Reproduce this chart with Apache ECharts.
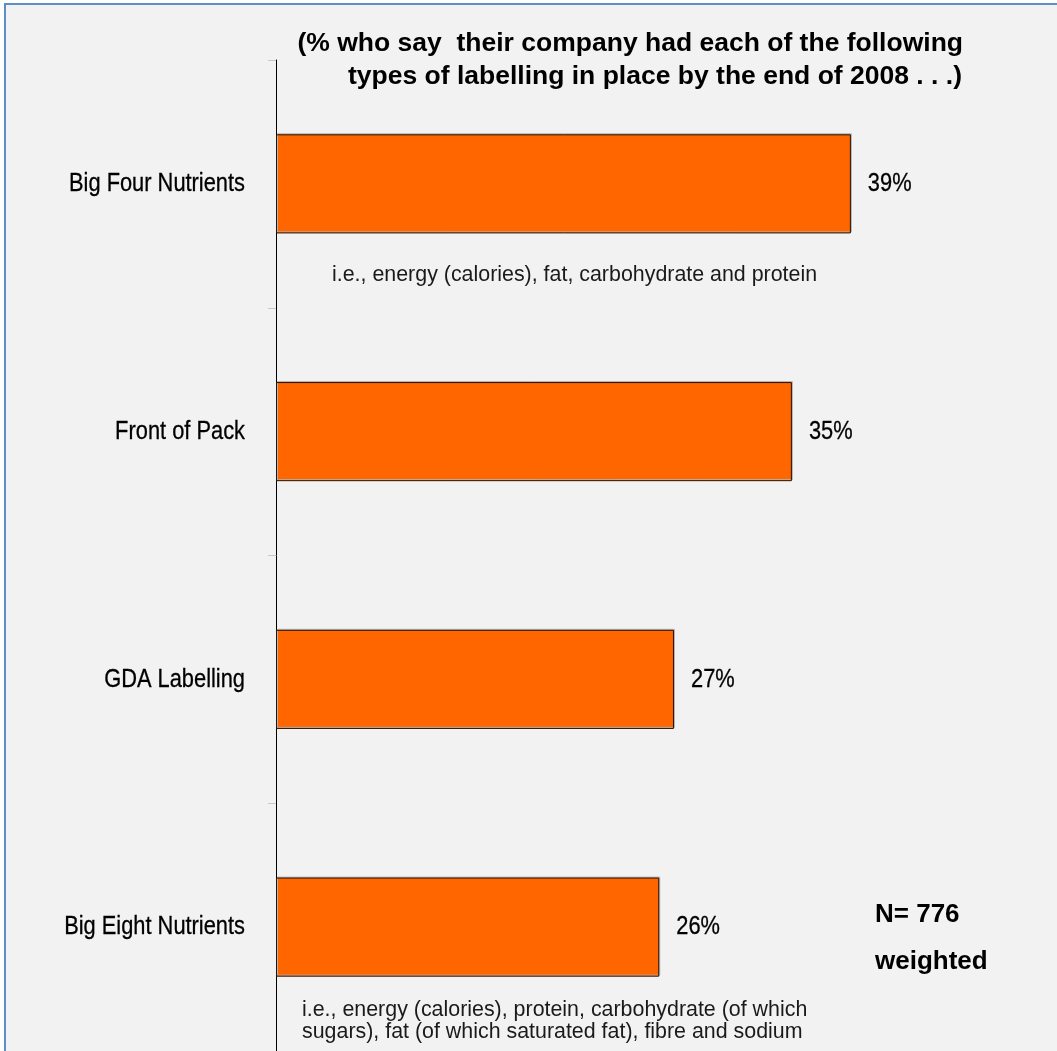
<!DOCTYPE html>
<html>
<head>
<meta charset="utf-8">
<script src="https://cdn.jsdelivr.net/npm/echarts@6/dist/echarts.min.js"></script>
<style>
  html, body { margin: 0; padding: 0; background: #ffffff; overflow: hidden; }
  #frame {
    position: absolute; left: 4px; top: 3px; width: 1051px; height: 1100px;
    border: 2px solid #5f8dc8; background: #f2f2f2;
  }
  #chart { position: absolute; left: 0; top: 0; width: 1057px; height: 1051px; }
</style>
</head>
<body>
<div id="frame"></div>
<div id="chart"></div>
<script>
// Labelling types and share of respondents (%)
const categories = ['Big Four Nutrients', 'Front of Pack', 'GDA Labelling', 'Big Eight Nutrients'];
const values = [39, 35, 27, 26];

const titleLines = [
  '(% who say  their company had each of the following',
  'types of labelling in place by the end of 2008 . . .)'
];
const noteBigFour = 'i.e., energy (calories), fat, carbohydrate and protein';
const noteBigEight = [
  'i.e., energy (calories), protein, carbohydrate (of which',
  'sugars), fat (of which saturated fat), fibre and sodium'
];
const sampleLines = ['N= 776', 'weighted'];

const sans = '"Liberation Sans", Arial, sans-serif';
// condensed look for category and value labels: regular face squeezed horizontally
const narrowFont = '26px ' + sans;
const narrowScale = 0.84;

const chart = echarts.init(document.getElementById('chart'), null, { renderer: 'canvas' });

chart.setOption({
  backgroundColor: 'transparent',
  animation: false,
  grid: { left: 276, top: 60, right: 44, bottom: -1, containLabel: false },
  xAxis: { type: 'value', min: 0, max: 50, show: false },
  yAxis: {
    type: 'category',
    data: categories,
    inverse: true,
    axisLine: { show: true, lineStyle: { color: '#000000', width: 1 } },
    axisTick: { show: true, length: 8, lineStyle: { color: '#c8c8c8', width: 1 } },
    axisLabel: { show: false },
    splitLine: { show: false }
  },
  series: [{
    type: 'bar',
    data: values,
    barWidth: '40%',
    itemStyle: {
      color: '#ff6600',
      borderColor: '#2a1200',
      borderWidth: 1,
      shadowColor: '#b4b4b4',
      shadowBlur: 0,
      shadowOffsetX: 1,
      shadowOffsetY: -1
    }
  }]
});

// Category names and value labels placed through the axis scales
const axisX0 = chart.convertToPixel({ xAxisIndex: 0 }, 0);
const labelGraphics = [];
categories.forEach(function (name, i) {
  const y = chart.convertToPixel({ yAxisIndex: 0 }, name);
  labelGraphics.push({
    type: 'text', x: axisX0 - 31, y: y, scaleX: narrowScale,
    style: { x: 0, y: 0, text: name, font: narrowFont, fill: '#000000', align: 'right', verticalAlign: 'middle',
             stroke: '#000000', lineWidth: 0.3 }
  });
  const xEnd = chart.convertToPixel({ xAxisIndex: 0 }, values[i]);
  labelGraphics.push({
    type: 'text', x: xEnd + 17, y: y, scaleX: narrowScale,
    style: { x: 0, y: 0, text: values[i] + '%', font: narrowFont, fill: '#000000', align: 'left', verticalAlign: 'middle',
             stroke: '#000000', lineWidth: 0.3 }
  });
});

const titleFont = 'bold 26.5px ' + sans;
const noteFont = '21.4px ' + sans;
const textGraphics = [
  { type: 'text', x: 963, y: 44,
    style: { text: titleLines[0], font: titleFont, fill: '#000000', align: 'right', verticalAlign: 'middle' } },
  { type: 'text', x: 962, y: 77,
    style: { text: titleLines[1], font: titleFont, fill: '#000000', align: 'right', verticalAlign: 'middle' } },
  { type: 'text', x: 332, y: 275,
    style: { text: noteBigFour, font: noteFont, fill: '#1a1a1a', verticalAlign: 'middle' } },
  { type: 'text', x: 302, y: 1010,
    style: { text: noteBigEight[0], font: noteFont, fill: '#1a1a1a', verticalAlign: 'middle' } },
  { type: 'text', x: 302, y: 1032,
    style: { text: noteBigEight[1], font: noteFont, fill: '#1a1a1a', verticalAlign: 'middle' } },
  { type: 'text', x: 875, y: 915,
    style: { text: sampleLines[0], font: 'bold 26px ' + sans, fill: '#000000', verticalAlign: 'middle' } },
  { type: 'text', x: 875, y: 962,
    style: { text: sampleLines[1], font: 'bold 26px ' + sans, fill: '#000000', verticalAlign: 'middle' } }
];

chart.setOption({ graphic: labelGraphics.concat(textGraphics) });
</script>
</body>
</html>
